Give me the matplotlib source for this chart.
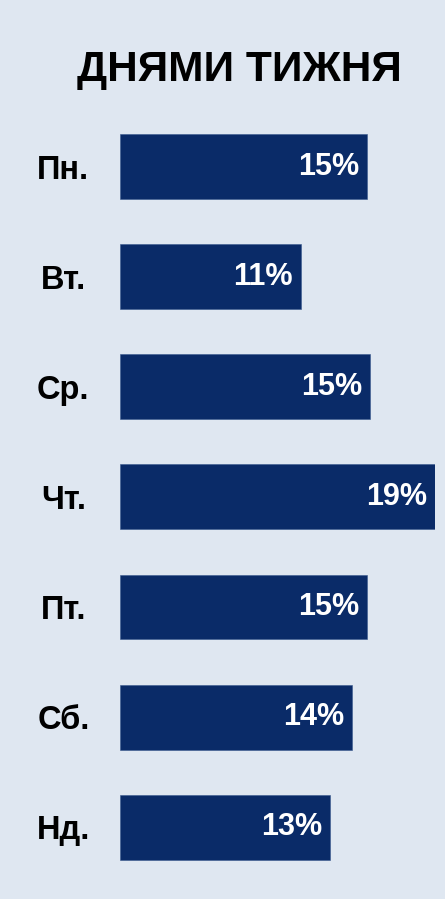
import matplotlib
matplotlib.use("Agg")
import matplotlib.pyplot as plt

days = ["Пн.", "Вт.", "Ср.", "Чт.", "Пт.", "Сб.", "Нд."]
values = [14.9, 10.9, 15.1, 19.0, 14.9, 14.0, 12.7]
pct_labels = ["15%", "11%", "15%", "19%", "15%", "14%", "13%"]
title = "ДНЯМИ ТИЖНЯ"

BG = "#dfe7f1"
BAR = "#0a2b68"
W, H = 445, 899

plt.rcParams['font.family'] = ['Liberation Sans', 'DejaVu Sans']

fig = plt.figure(figsize=(W / 100, H / 100), dpi=100, facecolor=BG)
ax = fig.add_axes([120.3 / W, 1 - 882.3 / H, 314.4 / W, (882.3 - 111.5) / H])
ax.set_facecolor(BG)

y = list(range(len(days)))
ax.barh(y, values, height=0.59, color=BAR, edgecolor="#3a5a8e", linewidth=0.4)
ax.set_xlim(0, 19.0)
ax.set_ylim(6.5, -0.5)

for i, (v, lab) in enumerate(zip(values, pct_labels)):
    ax.annotate(lab, xy=(v, i), xytext=(-8, 0), textcoords="offset pixels",
                ha="right", va="center", color="white", fontsize=22,
                fontweight="bold")

ax.set_yticks(y, labels=days)
for t in ax.get_yticklabels():
    t.set_ha("center")
    t.set_fontsize(23.5)
    t.set_fontweight("bold")
    t.set_color("black")
ax.tick_params(axis="y", pad=41, length=0)
ax.set_xticks([])
for s in ax.spines.values():
    s.set_visible(False)

fig.text(239.5 / W, 1 - 81 / H, title, ha="center", va="baseline",
         fontsize=30.5, fontweight="bold", color="black")

fig.savefig("out.png", dpi=100, facecolor=BG)
